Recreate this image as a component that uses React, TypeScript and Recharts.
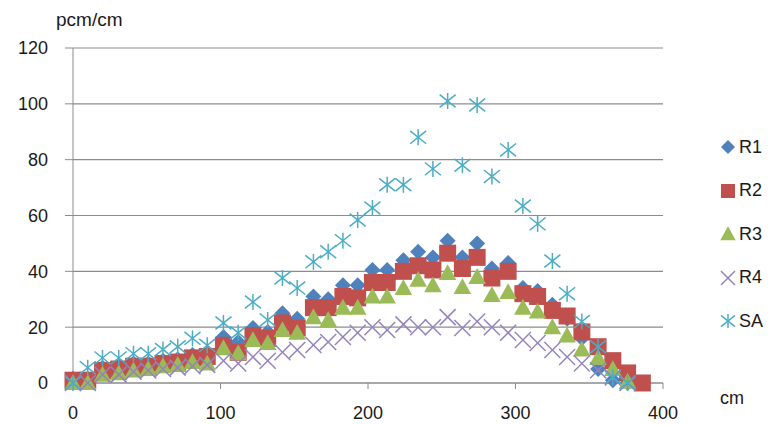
import React from "react";
import { ScatterChart, Scatter, XAxis, YAxis, CartesianGrid } from "recharts";

// positions along the axis (cm), one per measurement
const POSITIONS = [
  0, 10, 20, 31, 41, 51, 61, 71, 81, 91, 102, 112, 122, 132, 142, 152, 163, 173, 183, 193,
  203, 213, 224, 234, 244, 254, 264, 274, 284, 295, 305, 315, 325, 335, 345, 356, 366, 376, 386,
];

const R1 = [
  1.5, 1.5, 5.5, 6, 7, 7, 8, 8.5, 10, 10.5, 16.5, 14.7, 19.7, 18.3, 25, 23, 31, 30, 35, 35,
  40.5, 40.5, 44, 47, 45, 51, 45, 50, 41, 43, 34, 33, 28, 23, 16, 5, 1, 0, 0,
];
const R2 = [
  1, 1, 4.5, 5, 6, 6, 7, 7.5, 9, 9.5, 13.5, 11, 17, 16, 21.5, 19.7, 27, 27, 31, 30.5,
  36, 36, 40, 42, 40.5, 46.5, 41, 45, 37.6, 40, 32, 31, 26, 24, 18.3, 13, 8, 3.6, 0,
];
const R3 = [
  0, 0, 3, 3.5, 4.5, 5, 6, 6.5, 7.5, 7, 12.5, 10.7, 15.4, 14.3, 19, 18, 23.6, 22.6, 27, 27,
  31, 31, 34, 37, 35, 39.4, 34.4, 38, 31.5, 32.6, 27, 25.6, 20, 17, 12, 9, 5, 0.5, null,
];
const R4 = [
  0, 0, 3, 3, 4, 4.5, 5, 5.5, 6, 6.5, 8, 7, 9.3, 8, 11, 11.8, 13.6, 14.7, 16.5, 18,
  20, 19, 21, 20, 20, 23.6, 19.7, 22, 20, 18, 15.4, 14.3, 11.8, 9.3, 7, 4.6, 2, 0, null,
];
const SA = [
  0, 5.5, 9, 9, 10.5, 10.5, 12, 13, 16, 13.5, 21.5, 18, 29, 22.6, 37.6, 34, 43.4, 47, 51, 58.4,
  62.7, 71, 71, 88, 76.7, 101, 78, 99.6, 74, 83.5, 63.4, 57, 43.7, 32, 22, 13, 2, 0, null,
];

const X_TICKS = [0, 100, 200, 300, 400];
const Y_TICKS = [0, 20, 40, 60, 80, 100, 120];

type Kind = "diamond" | "square" | "triangle" | "cross" | "asterisk";

const SERIES: { name: string; values: (number | null)[]; color: string; kind: Kind }[] = [
  { name: "R1", values: R1, color: "#4F81BD", kind: "diamond" },
  { name: "R2", values: R2, color: "#C0504D", kind: "square" },
  { name: "R3", values: R3, color: "#9BBB59", kind: "triangle" },
  { name: "R4", values: R4, color: "#9384BD", kind: "cross" },
  { name: "SA", values: SA, color: "#4BACC6", kind: "asterisk" },
];

const FONT = "'Liberation Sans', Arial, sans-serif";
const TEXT = "#1a1a1a";
const GRID = "#8c8c8c";

function Marker({ cx, cy, kind, color, s = 8 }: { cx: number; cy: number; kind: Kind; color: string; s?: number }) {
  if (cx == null || cy == null) return <g />;
  switch (kind) {
    case "diamond":
      return <polygon points={`${cx},${cy - s} ${cx + s},${cy} ${cx},${cy + s} ${cx - s},${cy}`} fill={color} />;
    case "square":
      return <rect x={cx - s} y={cy - s} width={s * 2} height={s * 2} fill={color} />;
    case "triangle": {
      const t = s * 1.1;
      return <polygon points={`${cx},${cy - t} ${cx + t},${cy + t * 0.8} ${cx - t},${cy + t * 0.8}`} fill={color} />;
    }
    case "cross":
      return (
        <g stroke={color} strokeWidth={1.5}>
          <line x1={cx - s} y1={cy - s} x2={cx + s} y2={cy + s} />
          <line x1={cx - s} y1={cy + s} x2={cx + s} y2={cy - s} />
        </g>
      );
    default:
      return (
        <g stroke={color} strokeWidth={1.5}>
          <line x1={cx - s} y1={cy - s * 0.8} x2={cx + s} y2={cy + s * 0.8} />
          <line x1={cx - s} y1={cy + s * 0.8} x2={cx + s} y2={cy - s * 0.8} />
          <line x1={cx} y1={cy - s} x2={cx} y2={cy + s} />
        </g>
      );
  }
}

export default function App() {
  return (
    <div style={{ position: "absolute", left: 0, top: 0, width: 772, height: 425, background: "#fff", fontFamily: FONT }}>
      <ScatterChart width={772} height={425} margin={{ top: 48, right: 109, bottom: 2, left: 8 }}>
        <CartesianGrid vertical={false} stroke={GRID} strokeWidth={1.2} />
        <XAxis
          type="number"
          dataKey="x"
          domain={[0, 400]}
          ticks={X_TICKS}
          height={40}
          tickSize={6}
          tickMargin={17}
          stroke={GRID}
          tick={{ fill: TEXT, fontSize: 18, fontFamily: FONT }}
        />
        <YAxis
          type="number"
          dataKey="y"
          domain={[0, 120]}
          ticks={Y_TICKS}
          width={65}
          tickSize={8}
          tickMargin={17}
          stroke={GRID}
          tick={{ fill: TEXT, fontSize: 18, fontFamily: FONT }}
        />
        {SERIES.map((s) => (
          <Scatter
            key={s.name}
            name={s.name}
            data={POSITIONS.map((x, i) => ({ x, y: s.values[i] })).filter((d) => d.y != null)}
            isAnimationActive={false}
            shape={(p: any) => (
              <Marker cx={p.cx} cy={p.cy} kind={s.kind} color={s.color} s={s.kind === "square" ? 8.5 : 8} />
            )}
          />
        ))}
      </ScatterChart>

      <div style={{ position: "absolute", left: 56, top: 9, fontSize: 19, color: TEXT }}>pcm/cm</div>
      <div style={{ position: "absolute", left: 720, top: 388, fontSize: 18, color: TEXT }}>cm</div>

      {SERIES.map((s, i) => (
        <div
          key={s.name}
          style={{ position: "absolute", left: 719, top: 136 + i * 43.5, height: 22, display: "flex", alignItems: "center" }}
        >
          <svg width={18} height={18}>
            <Marker cx={9} cy={9} kind={s.kind} color={s.color} s={7} />
          </svg>
          <span style={{ fontSize: 18, color: TEXT, marginLeft: 2 }}>{s.name}</span>
        </div>
      ))}
    </div>
  );
}
